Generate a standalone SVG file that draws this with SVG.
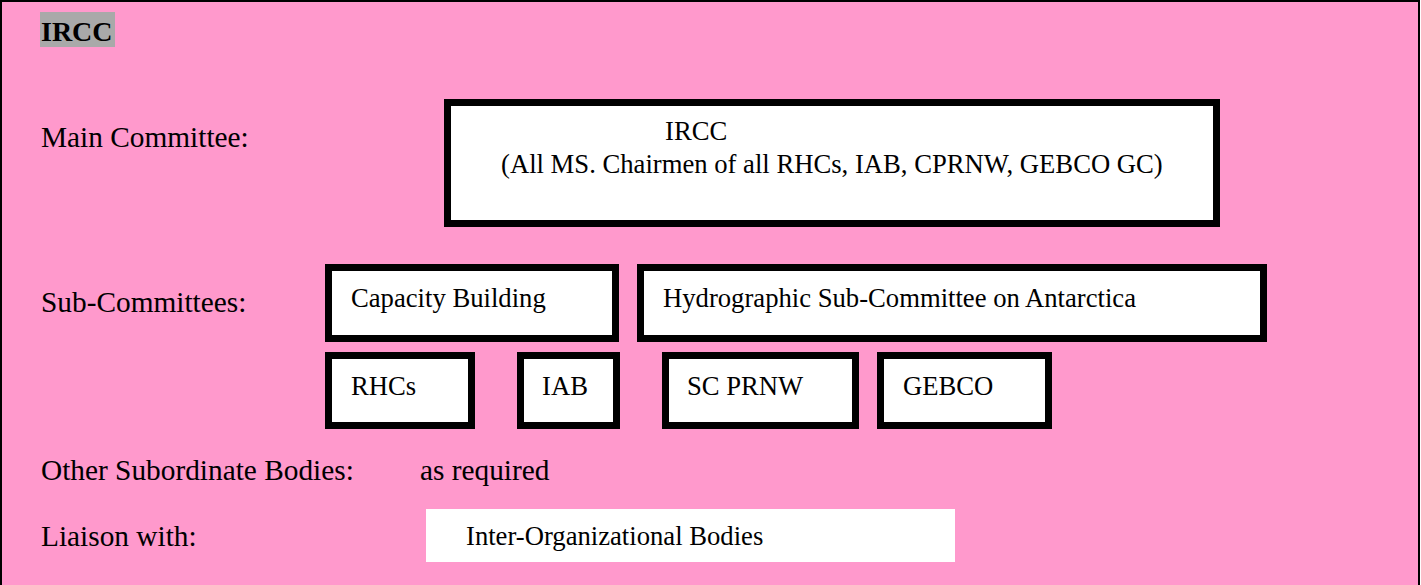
<svg xmlns="http://www.w3.org/2000/svg" width="1421" height="585" viewBox="0 0 1421 585">
<style>
text{font-family:"Liberation Serif","Times New Roman",serif;font-size:26.67px;fill:#000}
.lbl{font-size:29.33px}
.box{fill:#fff;stroke:#000;stroke-width:7}
.b{font-weight:bold}
</style>
<rect x="0" y="0" width="1421" height="585" fill="#fff"/>
<rect id="frame" x="1" y="1" width="1418" height="600" fill="#ff99cc" stroke="#000" stroke-width="2"/>
<g id="title">
<rect x="40" y="12" width="75" height="35" fill="#a9a9a9"/>
<text class="b" x="41" y="41" style="font-size:28px">IRCC</text>
</g>
<g id="labels">
<text class="lbl" x="41" y="147">Main Committee:</text>
<text class="lbl" x="41" y="312">Sub-Committees:</text>
<text class="lbl" x="41" y="480">Other Subordinate Bodies:</text>
<text class="lbl" x="420" y="480">as required</text>
<text class="lbl" x="41" y="546">Liaison with:</text>
</g>
<g id="main">
<rect class="box" x="447.5" y="102.5" width="769" height="121"/>
<text x="665" y="140">IRCC</text>
<text x="501" y="173">(All MS. Chairmen of all RHCs, IAB, CPRNW, GEBCO GC)</text>
</g>
<g id="capacity">
<rect class="box" x="328.5" y="267.5" width="287" height="71"/>
<text x="351" y="307">Capacity Building</text>
</g>
<g id="hsca">
<rect class="box" x="640.5" y="267.5" width="623" height="71"/>
<text x="663" y="307">Hydrographic Sub-Committee on Antarctica</text>
</g>
<g id="rhcs">
<rect class="box" x="328.5" y="355.5" width="143" height="70"/>
<text x="351" y="395">RHCs</text>
</g>
<g id="iab">
<rect class="box" x="520.5" y="355.5" width="96" height="70"/>
<text x="542" y="395">IAB</text>
</g>
<g id="scprnw">
<rect class="box" x="665.5" y="355.5" width="190" height="70"/>
<text x="687" y="395">SC PRNW</text>
</g>
<g id="gebco">
<rect class="box" x="880.5" y="355.5" width="168" height="70"/>
<text x="903" y="395">GEBCO</text>
</g>
<g id="liaison">
<rect x="426" y="509" width="529" height="53" fill="#fff"/>
<text x="466" y="545">Inter-Organizational Bodies</text>
</g>
<g id="connectors"></g>
</svg>
